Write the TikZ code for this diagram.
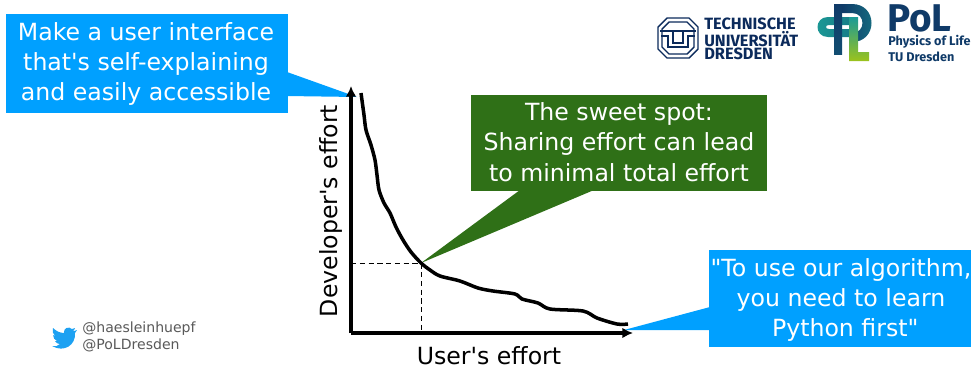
\documentclass[tikz,border=0pt]{standalone}
\usepackage{fontspec}
\usepackage{xcolor}
\usepackage{tikz}
\setmainfont{DejaVu Sans}
\newfontfamily\logofont{Fira Sans}
\usetikzlibrary{arrows.meta}
\definecolor{callblue}{HTML}{00A0FF}
\definecolor{callgreen}{HTML}{2F7017}
\definecolor{tunavy}{HTML}{0B2A5B}
\definecolor{polnavy}{HTML}{0F3A68}
\definecolor{polteal}{HTML}{1B9A96}
\definecolor{pollime}{HTML}{9CC31C}
\definecolor{birdblue}{HTML}{1DA1F2}
\tikzset{
    x=0.02cm, y=-0.02cm,
    callout/.style={text=white, align=center, inner sep=0pt, font=\fontsize{13.45}{17.2}\selectfont},
    axislabel/.style={font=\fontsize{13.45}{16}\selectfont},
    axisline/.style={line width=2pt, -{Latex[length=6pt,width=6pt]}},
    handle/.style={text=black!65, align=left, inner sep=0pt, font=\fontsize{8}{9.6}\selectfont},
    tulabel/.style={text=tunavy, inner sep=0pt, anchor=west, font=\logofont\fontsize{9.3}{9.3}\bfseries\selectfont},
    pollabel/.style={text=polnavy, inner sep=0pt, anchor=west, font=\logofont\fontsize{7.2}{7.2}\bfseries\selectfont},
    tuline/.style={tunavy, line width=0.8pt}
}
\begin{document}
\begin{tikzpicture}
    \useasboundingbox (0,0) rectangle (971,370);
    \coordinate (origin) at (351,333);
    \coordinate (ytop) at (351,86);
    \coordinate (xend) at (633,333);
    \coordinate (sweet) at (421,263);
    \coordinate (ybase) at (351,263);
    \coordinate (xbase) at (421,333);
    \coordinate (ytip) at (357,97);
    \coordinate (xtip) at (624,330);
    % callouts
    \fill[callblue] (6,14) rectangle (288,113);
    \fill[callblue] (287,72) -- (ytip) -- (287,96) -- cycle;
    \node[callout] (userbox) at (146,64) {Make a user interface\\that\textquotesingle s self-explaining\\and easily accessible};
    \fill[callgreen] (471,95) rectangle (767,191);
    \fill[callgreen] (520,190) -- (sweet) -- (594,190) -- cycle;
    \node[callout] (sweetbox) at (619,142) {The sweet spot:\\Sharing effort can lead\\to minimal total effort};
    \fill[callblue] (709,250) rectangle (971,347);
    \fill[callblue] (710,307) -- (xtip) -- (710,330) -- cycle;
    \node[callout] (devbox) at (841,300) {\textquotedbl To use our algorithm,\\you need to learn\\\hspace{0.36em}Python first\textquotedbl};
    % axes
    \draw[densely dashed, thin] (ybase) -- (sweet) -- (xbase);
    \draw[axisline] (origin) -- (ytop);
    \draw[axisline] (origin) -- (xend);
    \node[axislabel] (xlabel) at (489,356) {User\textquotesingle s effort};
    \node[axislabel, rotate=90] (ylabel) at (331,211) {Developer\textquotesingle s effort};
    % effort curve
    \draw[line width=2pt, line join=round] plot[smooth, tension=0.5] coordinates {
        (361,93) (364,115) (366,130) (371,145) (375,160) (377,175) (379,190) (384,203) (390,213)
        (396,227) (403,240) (411,252) (421,263) (430,270) (440,276) (460,281) (478,288) (493,291)
        (515,294) (522,299) (538,303) (550,309) (583,311) (597,318) (617,324) (628,324)};
    % twitter
    \fill[birdblue] (77,330) .. controls (75,331) and (74,331) .. (73,331)
        .. controls (74,330) and (75,329) .. (75,328)
        .. controls (74,329) and (73,329) .. (72,329)
        .. controls (69,326) and (63,328) .. (64,333)
        .. controls (60,333) and (56,331) .. (53,328)
        .. controls (52,331) and (53,334) .. (55,336)
        .. controls (54,336) and (53,335) .. (53,335)
        .. controls (53,338) and (55,340) .. (57,341)
        .. controls (56,341) and (55,341) .. (55,341)
        .. controls (56,343) and (58,344) .. (60,344)
        .. controls (58,346) and (55,347) .. (52,346)
        .. controls (64,353) and (76,345) .. (75,333)
        .. controls (76,332) and (76,331) .. (77,330) -- cycle;
    \node[handle, anchor=west] (handles) at (82,337) {@haesleinhuepf\\@PoLDresden};
    % TU logo
    \draw[tuline] (667,18) -- (689,18) -- (698,27) -- (698,49) -- (689,58) -- (667,58) -- (658,49) -- (658,27) -- cycle;
    \draw[tuline] (669,22) -- (687,22) -- (694,29) -- (694,47) -- (687,54) -- (669,54) -- (662,47) -- (662,29) -- cycle;
    \draw[tuline] (660,31) -- (696,31);
    \draw[tuline] (661,36) -- (668,36) -- (668,47) -- (688,47) -- (688,36) -- (695,36);
    \draw[tuline] (673,32) -- (673,43) -- (683,43) -- (683,32);
    \node[tulabel] (tua) at (704,24) {TECHNISCHE};
    \node[tulabel] (tub) at (704,39) {UNIVERSITÄT};
    \node[tulabel] (tuc) at (704,54) {DRESDEN};
    % PoL logo
    \shade[left color=polteal, right color=polteal!70!polnavy] (851,17) -- (828,17) .. controls (814,17) and (814,37) .. (828,37) -- (851,37) -- (851,29) -- (829,29) .. controls (825,29) and (825,25) .. (829,25) -- (851,25) -- cycle;
    \shade[top color=polnavy, bottom color=polnavy!80!polteal] (834,4) rectangle (842,54);
    \shade[left color=polnavy, right color=polteal!60!polnavy] (842,4) -- (852,4) .. controls (878,4) and (878,42) .. (852,42) -- (849,42) -- (849,33) -- (852,33) .. controls (866,33) and (866,13) .. (852,13) -- (842,13) -- cycle;
    \shade[top color=polteal, bottom color=pollime] (849,17) -- (858,17) -- (858,52) -- (869,52) -- (869,61) -- (849,61) -- cycle;
    \node[text=polnavy, inner sep=0pt, anchor=west, font=\logofont\fontsize{22}{22}\bfseries\selectfont] (polname) at (887,18) {PoL};
    \node[pollabel] (pola) at (888,42) {Physics of Life};
    \node[pollabel] (polb) at (888,57) {TU Dresden};
\end{tikzpicture}
\end{document}
